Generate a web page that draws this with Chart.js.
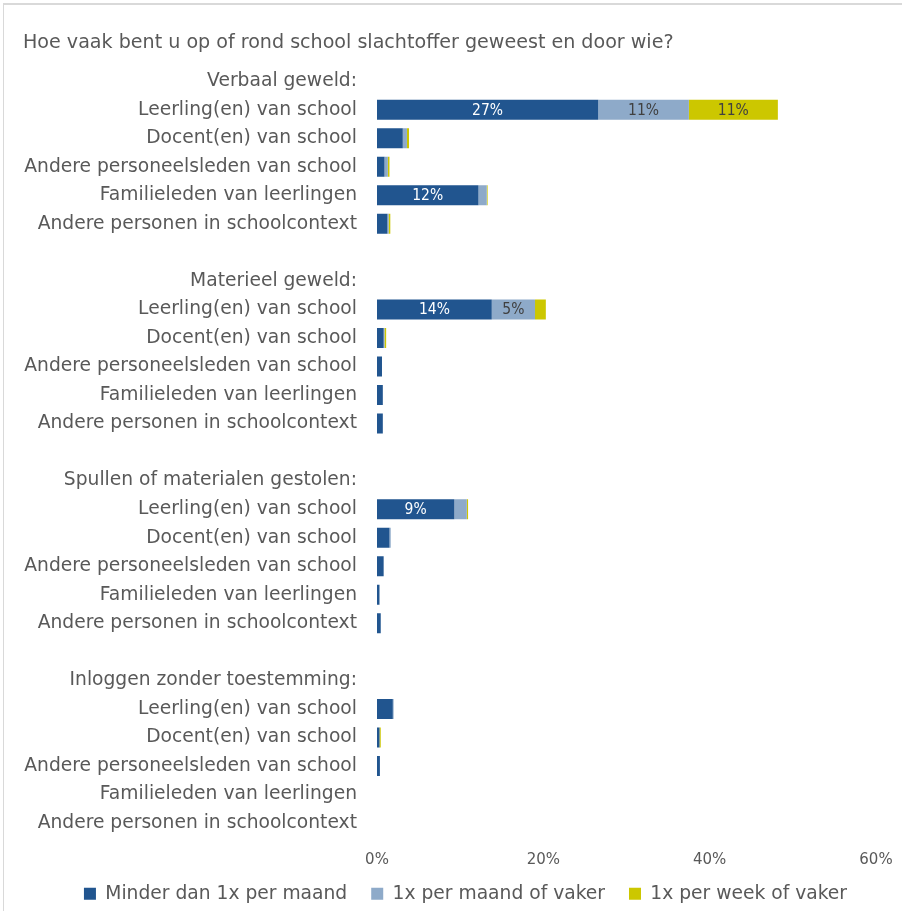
<!DOCTYPE html>
<html>
<head>
<meta charset="utf-8">
<title>Slachtoffer op of rond school</title>
<script src="https://cdn.jsdelivr.net/npm/chart.js@4"></script>
<style>
  html, body { margin: 0; padding: 0; background: #fff; overflow: hidden; }
  #frame { position: absolute; left: 3px; top: 3px; width: 1000px; height: 1000px;
           border-left: 1px solid #d9d9d9; border-top: 2px solid #d9d9d9; }
  #chart { position: absolute; left: 0; top: 0; }
</style>
</head>
<body>
<div id="frame"></div>
<canvas id="chart" width="902" height="913"></canvas>
<script>
// Rows of the chart: group headers, items and empty spacer rows
const categories = [
    'Verbaal geweld:', 'Leerling(en) van school', 'Docent(en) van school', 'Andere personeelsleden van school', 'Familieleden van leerlingen', 'Andere personen in schoolcontext', '',
    'Materieel geweld:', 'Leerling(en) van school', 'Docent(en) van school', 'Andere personeelsleden van school', 'Familieleden van leerlingen', 'Andere personen in schoolcontext', '',
    'Spullen of materialen gestolen:', 'Leerling(en) van school', 'Docent(en) van school', 'Andere personeelsleden van school', 'Familieleden van leerlingen', 'Andere personen in schoolcontext', '',
    'Inloggen zonder toestemming:', 'Leerling(en) van school', 'Docent(en) van school', 'Andere personeelsleden van school', 'Familieleden van leerlingen', 'Andere personen in schoolcontext'
];

const seriesNames = ['Minder dan 1x per maand', '1x per maand of vaker', '1x per week of vaker'];

// Values in percent
const minderDan = [null, 26.6, 3.1, 0.9, 12.2, 1.25, null,
                   null, 13.8, 0.8, 0.6, 0.7, 0.7, null,
                   null, 9.3, 1.5, 0.8, 0.3, 0.45, null,
                   null, 1.9, 0.3, 0.35, 0, 0];
const perMaand  = [null, 10.9, 0.5, 0.4, 1.0, 0.15, null,
                   null, 5.2, 0.1, 0, 0, 0, null,
                   null, 1.5, 0.15, 0, 0, 0, null,
                   null, 0.1, 0, 0, 0, 0];
const perWeek   = [null, 10.7, 0.25, 0.2, 0.1, 0.2, null,
                   null, 1.3, 0.2, 0, 0, 0, null,
                   null, 0.15, 0, 0, 0, 0, null,
                   null, 0, 0.15, 0, 0, 0];

const xTicks = [0, 20, 40, 60];

const colors = ['#21558f', '#8eaac9', '#ccc700'];
const textColor = '#595959';
const fontFamily = "'DejaVu Sans', sans-serif";
const labelFont = "'DejaVu Sans Condensed', 'DejaVu Sans', sans-serif";

// Percent labels inside the larger segments
const barLabels = {
    id: 'barLabels',
    afterDatasetsDraw(chart) {
        const ctx = chart.ctx;
        ctx.save();
        ctx.font = '15.5px ' + labelFont;
        ctx.textAlign = 'center';
        ctx.textBaseline = 'middle';
        chart.data.datasets.forEach((ds, di) => {
            const meta = chart.getDatasetMeta(di);
            meta.data.forEach((bar, i) => {
                const v = ds.data[i];
                if (v == null || v < 4.5) return;
                const cx = (bar.x + bar.base) / 2;
                ctx.fillStyle = di == 0 ? '#ffffff' : '#404040';
                ctx.fillText(Math.round(v) + '%', cx, bar.y + 1);
            });
        });
        ctx.restore();
    }
};

// Shift the legend a little to the right, like in the original,
// and give the x tick labels room below the axis
const layoutTweak = {
    id: 'layoutTweak',
    afterLayout(chart) {
        if (chart.legend) {
            chart.legend.left += 16;
            chart.legend.right += 16;
        }
        chart.scales.x.bottom += 16;
    }
};

let myChart = new Chart(document.getElementById('chart').getContext('2d'), {
    type: 'bar',
    data: {
        labels: categories,
        datasets: [
            { label: seriesNames[0], data: minderDan, backgroundColor: colors[0] },
            { label: seriesNames[1], data: perMaand, backgroundColor: colors[1] },
            { label: seriesNames[2], data: perWeek, backgroundColor: colors[2] }
        ]
    },
    options: {
        indexAxis: 'y',
        responsive: false,
        animation: false,
        devicePixelRatio: 1,
        datasets: {
            bar: { categoryPercentage: 1.0, barPercentage: 0.7, borderWidth: 0 }
        },
        layout: { padding: { left: 23, right: 26, top: 0, bottom: 0 } },
        plugins: {
            title: {
                display: true,
                text: 'Hoe vaak bent u op of rond school slachtoffer geweest en door wie?',
                align: 'start',
                color: textColor,
                font: { family: fontFamily, size: 19.1, weight: 'normal', lineHeight: 1.2 },
                padding: { top: 32, bottom: 12 }
            },
            legend: {
                position: 'bottom',
                labels: {
                    color: textColor,
                    boxWidth: 12,
                    boxHeight: 12,
                    padding: 24,
                    font: { family: fontFamily, size: 18.7 }
                }
            },
            tooltip: { enabled: false }
        },
        scales: {
            x: {
                stacked: true,
                min: 0,
                max: 60,
                afterBuildTicks: (scale) => {
                    scale.ticks = xTicks.map(v => ({ value: v }));
                },
                afterFit: (scale) => {
                    scale.height = 23;
                    scale.paddingLeft = 0;
                    scale.paddingRight = 10;
                },
                grid: { display: false, drawTicks: false },
                border: { display: false },
                ticks: {
                    color: textColor,
                    padding: 13.7,
                    font: { family: fontFamily, size: 15 },
                    callback: (v) => v + '%'
                }
            },
            y: {
                stacked: true,
                afterFit: (scale) => { scale.width = 354; },
                grid: { display: false, drawTicks: false },
                border: { display: false },
                ticks: {
                    autoSkip: false,
                    color: textColor,
                    padding: 20,
                    font: { family: fontFamily, size: 18.7 }
                }
            }
        }
    },
    plugins: [barLabels, layoutTweak]
});
</script>
</body>
</html>
